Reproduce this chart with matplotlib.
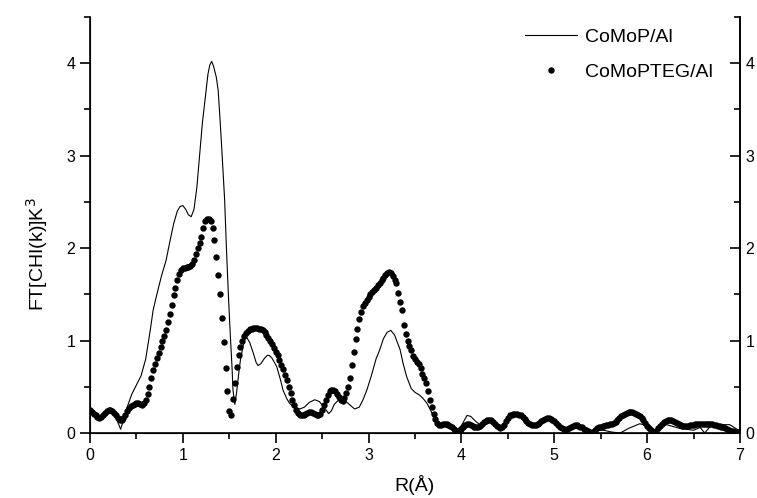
import numpy as np
import matplotlib.pyplot as plt

plt.rcParams['font.family'] = ['Liberation Sans', 'DejaVu Sans']

# CoMoP/Al: FT magnitude, (R, value) knots
como_r = [0.00, 0.05, 0.10, 0.15, 0.20, 0.25, 0.29, 0.33, 0.36, 0.40,
          0.45, 0.50, 0.55, 0.60, 0.65, 0.68, 0.72, 0.77, 0.82, 0.86,
          0.90, 0.94, 0.97, 1.00, 1.03, 1.06, 1.09, 1.12, 1.15, 1.18,
          1.21, 1.24, 1.27, 1.29, 1.31, 1.33, 1.36, 1.38, 1.40, 1.42,
          1.45, 1.47, 1.49, 1.51, 1.53, 1.54, 1.56, 1.58, 1.60, 1.62,
          1.65, 1.67, 1.69, 1.72, 1.76, 1.79, 1.81, 1.84, 1.88, 1.91,
          1.93, 1.96, 2.01, 2.05, 2.08, 2.12, 2.15, 2.20, 2.26, 2.31,
          2.36, 2.42, 2.47, 2.52, 2.57, 2.60, 2.63, 2.68, 2.73, 2.78,
          2.85, 2.90, 2.94, 2.98, 3.03, 3.08, 3.12, 3.16, 3.20, 3.24,
          3.28, 3.31, 3.34, 3.37, 3.41, 3.46, 3.50, 3.55, 3.59, 3.63,
          3.66, 3.70, 3.75, 3.80, 3.85, 3.90, 3.95, 4.00, 4.06, 4.10,
          4.16, 4.20, 4.26, 4.32, 4.42, 4.50, 4.60, 4.70, 4.80, 4.92,
          5.00, 5.10, 5.14, 5.24, 5.32, 5.40, 5.46, 5.53, 5.62, 5.71,
          5.80, 5.92, 6.00, 6.08, 6.14, 6.21, 6.35, 6.50, 6.57, 6.62,
          6.67, 6.71, 6.89, 7.00]
como_ft = [0.25, 0.21, 0.18, 0.19, 0.22, 0.21, 0.14, 0.04, 0.14, 0.28,
           0.42, 0.52, 0.62, 0.80, 1.12, 1.33, 1.50, 1.70, 1.87, 2.07,
           2.26, 2.40, 2.45, 2.46, 2.42, 2.36, 2.34, 2.42, 2.65, 3.00,
           3.35, 3.62, 3.88, 3.98, 4.02, 3.97, 3.85, 3.71, 3.40, 3.06,
           2.52, 1.98, 1.50, 1.08, 0.70, 0.46, 0.31, 0.45, 0.63, 0.79,
           0.95, 1.02, 1.03, 0.98, 0.86, 0.76, 0.73, 0.75, 0.81, 0.84,
           0.84, 0.81, 0.72, 0.58, 0.46, 0.37, 0.32, 0.28, 0.26, 0.28,
           0.33, 0.36, 0.34, 0.28, 0.21, 0.24, 0.31, 0.36, 0.36, 0.32,
           0.26, 0.28, 0.36, 0.46, 0.62, 0.80, 0.90, 1.02, 1.09, 1.11,
           1.06, 0.98, 0.90, 0.76, 0.61, 0.48, 0.44, 0.41, 0.37, 0.32,
           0.26, 0.18, 0.09, 0.07, 0.08, 0.06, 0.03, 0.08, 0.19, 0.18,
           0.12, 0.09, 0.12, 0.14, 0.05, 0.15, 0.20, 0.13, 0.08, 0.15,
           0.12, 0.03, 0.02, 0.10, 0.05, 0.00, 0.03, 0.03, 0.01, 0.00,
           0.05, 0.10, 0.08, 0.00, 0.07, 0.09, 0.05, 0.03, 0.06, 0.00,
           0.06, 0.09, 0.09, 0.02]

# CoMoPTEG/Al: FT magnitude sampled every 0.02 A from R = 0 to 7
teg_ft = [
    0.25, 0.23, 0.21, 0.19, 0.17, 0.165, 0.17, 0.19, 0.22, 0.24,   # 0.00
    0.25, 0.25, 0.24, 0.22, 0.19, 0.16, 0.145, 0.14, 0.16, 0.20,   # 0.20
    0.24, 0.27, 0.29, 0.30, 0.31, 0.32, 0.32, 0.31, 0.30, 0.32,    # 0.40
    0.36, 0.42, 0.50, 0.60, 0.68, 0.75, 0.81, 0.86, 0.93, 0.99,    # 0.60
    1.05, 1.11, 1.20, 1.29, 1.39, 1.49, 1.57, 1.66, 1.72, 1.76,    # 0.80
    1.78, 1.79, 1.80, 1.80, 1.81, 1.83, 1.87, 1.94, 2.00, 2.05,    # 1.00
    2.12, 2.22, 2.29, 2.31, 2.32, 2.29, 2.22, 2.09, 1.90, 1.71,    # 1.20
    1.50, 1.24, 0.98, 0.70, 0.45, 0.24, 0.20, 0.37, 0.54, 0.71,    # 1.40
    0.84, 0.93, 1.00, 1.05, 1.08, 1.10, 1.12, 1.13, 1.14, 1.14,    # 1.60
    1.14, 1.13, 1.12, 1.11, 1.09, 1.06, 1.03, 1.00, 0.96, 0.92,    # 1.80
    0.88, 0.84, 0.79, 0.74, 0.69, 0.63, 0.57, 0.50, 0.43, 0.36,    # 2.00
    0.30, 0.25, 0.22, 0.20, 0.20, 0.20, 0.21, 0.22, 0.23, 0.23,    # 2.20
    0.22, 0.21, 0.20, 0.20, 0.21, 0.25, 0.30, 0.36, 0.41, 0.45,    # 2.40
    0.47, 0.47, 0.45, 0.42, 0.39, 0.36, 0.35, 0.38, 0.43, 0.50,    # 2.60
    0.60, 0.74, 0.88, 1.02, 1.12, 1.23, 1.31, 1.37, 1.41, 1.44,    # 2.80
    1.47, 1.50, 1.52, 1.55, 1.57, 1.60, 1.62, 1.65, 1.68, 1.71,    # 3.00
    1.73, 1.74, 1.73, 1.70, 1.66, 1.62, 1.51, 1.42, 1.33, 1.17,    # 3.20
    1.07, 1.00, 0.94, 0.90, 0.83, 0.80, 0.77, 0.75, 0.70, 0.64,    # 3.40
    0.60, 0.54, 0.45, 0.36, 0.28, 0.21, 0.15, 0.11, 0.09, 0.09,    # 3.60
    0.10, 0.10, 0.10, 0.09, 0.08, 0.06, 0.04, 0.02, 0.01, 0.02,    # 3.80
    0.04, 0.07, 0.09, 0.10, 0.10, 0.09, 0.08, 0.07, 0.07, 0.07,    # 4.00
    0.08, 0.10, 0.12, 0.13, 0.14, 0.14, 0.14, 0.12, 0.10, 0.08,    # 4.20
    0.06, 0.05, 0.06, 0.09, 0.13, 0.16, 0.19, 0.20, 0.21, 0.21,    # 4.40
    0.21, 0.20, 0.19, 0.17, 0.15, 0.13, 0.11, 0.10, 0.09, 0.09,    # 4.60
    0.09, 0.10, 0.11, 0.13, 0.14, 0.15, 0.16, 0.16, 0.15, 0.14,    # 4.80
    0.13, 0.11, 0.09, 0.07, 0.05, 0.04, 0.03, 0.04, 0.05, 0.07,    # 5.00
    0.08, 0.09, 0.09, 0.08, 0.07, 0.06, 0.04, 0.03, 0.02, 0.01,    # 5.20
    0.00, 0.01, 0.03, 0.05, 0.06, 0.07, 0.08, 0.08, 0.09, 0.09,    # 5.40
    0.10, 0.10, 0.11, 0.12, 0.14, 0.16, 0.18, 0.20, 0.21, 0.22,    # 5.60
    0.23, 0.23, 0.23, 0.22, 0.21, 0.20, 0.18, 0.16, 0.14, 0.11,    # 5.80
    0.08, 0.05, 0.03, 0.01, 0.00, 0.02, 0.05, 0.08, 0.10, 0.12,    # 6.00
    0.13, 0.14, 0.14, 0.14, 0.13, 0.12, 0.11, 0.10, 0.09, 0.08,    # 6.20
    0.08, 0.08, 0.08, 0.09, 0.09, 0.09, 0.10, 0.10, 0.10, 0.10,    # 6.40
    0.10, 0.10, 0.10, 0.10, 0.10, 0.10, 0.09, 0.09, 0.08, 0.08,    # 6.60
    0.07, 0.06, 0.05, 0.04, 0.03, 0.02, 0.02, 0.01, 0.01, 0.01,    # 6.80
    0.01,                                                          # 7.00
]
teg_r = np.linspace(0, 7, len(teg_ft))

fig = plt.figure(figsize=(7.57, 4.98), dpi=100)
ax = fig.add_axes([90 / 757, 65 / 498, 650 / 757, 416 / 498])

ax.plot(como_r, como_ft, color='black', lw=0.8, label='CoMoP/Al')
ax.plot(teg_r, teg_ft, 'o', color='black', ms=4.6, mew=0,
        label='CoMoPTEG/Al')

ax.set_xlim(0, 7)
ax.set_ylim(0, 4.5)
ax.set_xticks(range(8))
ax.set_xticks(np.arange(0.5, 7, 1), minor=True)
ax.set_yticks(range(5))
ax.set_yticks(np.arange(0.5, 4.6, 1), minor=True)

for side in ['left', 'bottom', 'right']:
    ax.spines[side].set_linewidth(1.2)
ax.spines['top'].set_visible(False)

ax.tick_params(axis='both', which='major', direction='out', length=7,
               width=1.2, labelsize=11.5)
ax.tick_params(axis='both', which='minor', direction='out', length=4,
               width=1.2)

# right-hand axis, ticks pointing inward
ax2 = ax.twinx()
ax2.set_ylim(ax.get_ylim())
ax2.set_yticks(range(5))
ax2.set_yticks(np.arange(0.5, 4.6, 1), minor=True)
ax2.spines['top'].set_visible(False)
ax2.spines['right'].set_linewidth(1.2)
ax2.tick_params(axis='y', which='major', direction='in', length=7,
                width=1.2, labelsize=11.5, pad=4)
ax2.tick_params(axis='y', which='minor', direction='in', length=4, width=1.2)

ax.set_xlabel('R(Å)', fontsize=14)
ax.xaxis.set_label_coords(0.5, -0.1)
ax.set_ylabel('FT[CHI(k)]K$^3$', fontsize=14)
ax.yaxis.set_label_coords(-0.062, 0.43)

ax.legend(loc='upper right', bbox_to_anchor=(0.985, 1.015), frameon=False,
          fontsize=14, handlelength=2.7, handletextpad=0.4,
          labelspacing=0.9)

fig.savefig('out.png', dpi=100)
